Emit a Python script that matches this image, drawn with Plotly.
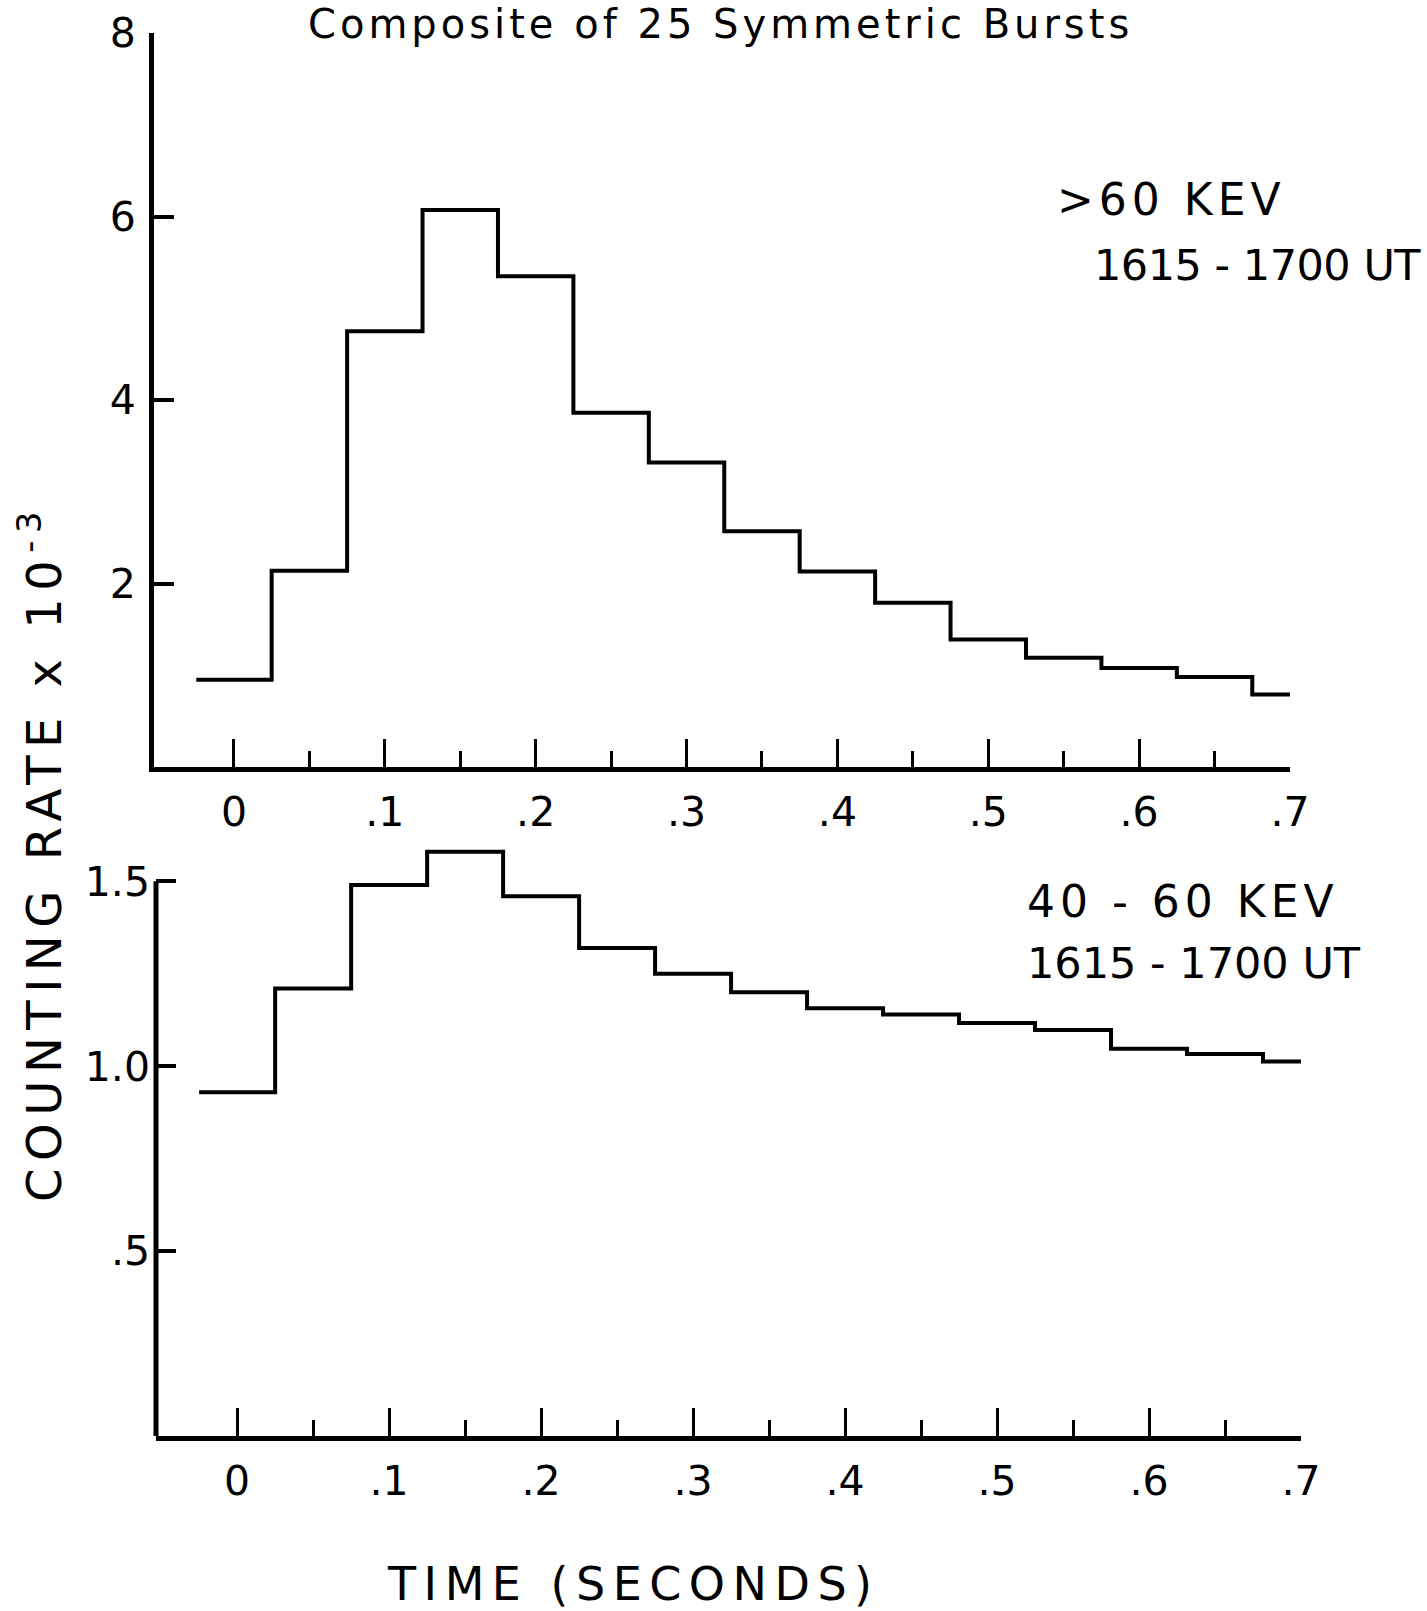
import plotly.graph_objects as go

# Time bins (s), 0.05 s wide, labelled by their centres
bin_centers = [0.00, 0.05, 0.10, 0.15, 0.20, 0.25, 0.30, 0.35,
               0.40, 0.45, 0.50, 0.55, 0.60, 0.65, 0.70]
bin_width = 0.05

# Counting rate x 10^-3, >60 keV channel
rate_above_60 = [0.95, 2.14, 4.75, 6.07, 5.35, 3.86, 3.32, 2.57,
                 2.13, 1.79, 1.39, 1.19, 1.08, 0.98, 0.79]
# Counting rate x 10^-3, 40-60 keV channel
rate_40_60 = [0.93, 1.21, 1.49, 1.58, 1.46, 1.32, 1.25, 1.20,
              1.157, 1.14, 1.117, 1.098, 1.047, 1.033, 1.013]

x_major = [0.0, 0.1, 0.2, 0.3, 0.4, 0.5, 0.6, 0.7]
x_major_text = ["0", ".1", ".2", ".3", ".4", ".5", ".6", ".7"]
x_minor = [0.05, 0.15, 0.25, 0.35, 0.45, 0.55, 0.65]
top_y_ticks = [2, 4, 6, 8]
top_y_text = ["2", "4", "6", "8"]
bot_y_ticks = [0.5, 1.0, 1.5]
bot_y_text = [".5", "1.0", "1.5"]

FONT = "DejaVu Sans"
INK = "black"


def step_xy(centers, values):
    """Histogram outline: left edges with an extra point at the last right edge."""
    xs = [c - bin_width / 2 for c in centers] + [centers[-1] + bin_width / 2]
    ys = list(values) + [values[-1]]
    return xs, ys


fig = go.Figure()

xs, ys = step_xy(bin_centers, rate_above_60)
fig.add_trace(go.Scatter(x=xs, y=ys, mode="lines", line=dict(shape="hv", color=INK, width=4),
                         xaxis="x", yaxis="y", showlegend=False, hoverinfo="skip"))
xs, ys = step_xy(bin_centers, rate_40_60)
fig.add_trace(go.Scatter(x=xs, y=ys, mode="lines", line=dict(shape="hv", color=INK, width=4),
                         xaxis="x2", yaxis="y2", showlegend=False, hoverinfo="skip"))

W, H = 1427, 1611

xaxis_common = dict(
    tickmode="array", tickvals=x_major, ticktext=x_major_text,
    ticks="inside", ticklen=28, tickwidth=3, tickcolor=INK,
    minor=dict(tickvals=x_minor, ticks="inside", ticklen=16, tickwidth=3, tickcolor=INK),
    showline=True, linewidth=5, linecolor=INK,
    showgrid=False, zeroline=False, automargin=False,
    tickfont=dict(family=FONT, size=41, color=INK),
    ticklabelstandoff=5,
)
yaxis_common = dict(
    ticks="inside", ticklen=20, tickwidth=4, tickcolor=INK,
    showgrid=False, zeroline=False, automargin=False,
    tickfont=dict(family=FONT, size=41, color=INK),
    ticklabelstandoff=5,
)

fig.update_layout(
    template="none",
    width=W, height=H,
    margin=dict(l=0, r=0, t=0, b=0, pad=0),
    paper_bgcolor="white", plot_bgcolor="white",
    xaxis=dict(domain=[154 / W, 1290 / W], range=[-0.053, 0.70], anchor="y", **xaxis_common),
    yaxis=dict(domain=[1 - 767 / H, 1 - 33 / H], range=[0, 8], anchor="x",
               tickmode="array", tickvals=top_y_ticks, ticktext=top_y_text,
               showline=True, linewidth=5, linecolor=INK, **yaxis_common),
    xaxis2=dict(domain=[156 / W, 1301 / W], range=[-0.0534, 0.70], anchor="y2", **xaxis_common),
    yaxis2=dict(domain=[1 - 1436 / H, 1 - 837 / H], range=[0, 1.62], anchor="x2",
                tickmode="array", tickvals=bot_y_ticks, ticktext=bot_y_text,
                showline=False, **yaxis_common),
)

# lower panel's vertical axis stops at the 1.5 tick
fig.add_shape(type="line", xref="x2 domain", yref="y2", x0=0, x1=0, y0=0, y1=1.5,
              line=dict(color=INK, width=5), layer="above")


def label(text, x, y, size, spacing=0, angle=0, xanchor="center", yanchor="middle", yshift=0):
    fig.add_annotation(
        text=f'<span style="letter-spacing:{spacing}px">{text}</span>',
        x=x / W, y=1 - y / H, xref="paper", yref="paper",
        xanchor=xanchor, yanchor=yanchor, showarrow=False, textangle=angle,
        yshift=yshift, font=dict(family=FONT, size=size, color=INK),
    )


label("Composite of 25 Symmetric Bursts", 720, 0, 40, spacing=4, yanchor="top", yshift=1)
label("&gt;60 KEV", 1055, 200, 44, spacing=5, xanchor="left")
label("1615 - 1700 UT", 1092, 265, 43, spacing=-0.5, xanchor="left")
label("40 - 60 KEV", 1025, 902, 44, spacing=5, xanchor="left")
label("1615 - 1700 UT", 1025, 963, 43, spacing=0, xanchor="left")
label("COUNTING RATE x 10<sup>-3</sup>", 41, 853, 48, spacing=7.5, angle=-90)
label("TIME (SECONDS)", 633, 1584, 46, spacing=7.5)

fig.write_html("out.html")
